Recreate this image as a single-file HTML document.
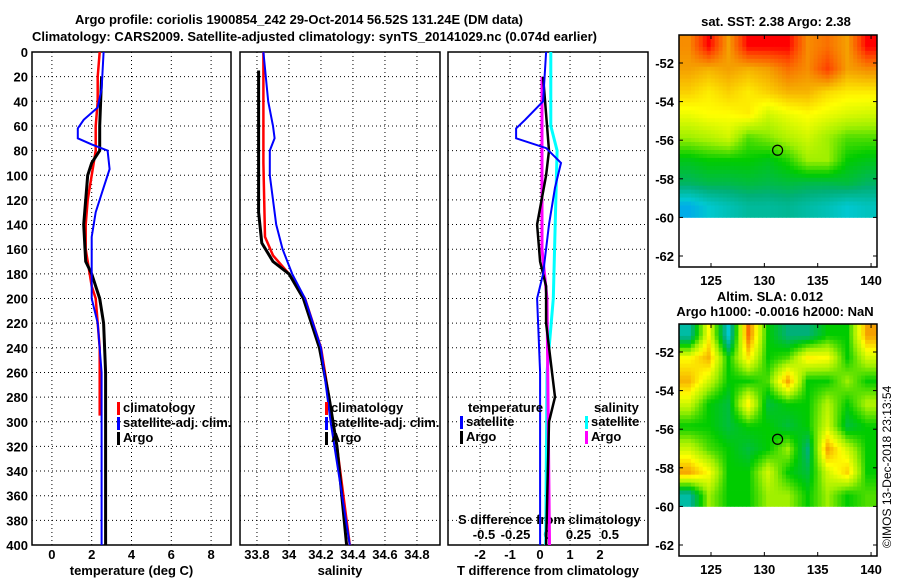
<!DOCTYPE html>
<html><head><meta charset="utf-8">
<style>
body{margin:0;background:#fff;}
svg text{font-family:"Liberation Sans",sans-serif;font-weight:bold;font-size:13px;fill:#000;}
</style></head>
<body>
<svg id="c" width="900" height="580" xmlns="http://www.w3.org/2000/svg">
<rect width="900" height="580" fill="#fff"/>
<text x="75" y="24">Argo profile: coriolis 1900854_242 29-Oct-2014 56.52S 131.24E (DM data)</text>
<text x="32" y="41">Climatology: CARS2009. Satellite-adjusted climatology: synTS_20141029.nc (0.074d earlier)</text>
<g id="g"></g>
</svg>
<script>
// ---------- data ----------
const depthTicks=[0,20,40,60,80,100,120,140,160,180,200,220,240,260,280,300,320,340,360,380,400];
const tTicks=[0,2,4,6,8];
const sTicks=[33.8,34,34.2,34.4,34.6,34.8];
const dtTicks=[-2,-1,0,1,2];
const dsTicks=[-0.5,-0.25,0,0.25,0.5];
const dsTickLabels=["-0.5","-0.25","0","0.25","0.5"];

const tClimDepth=[0,20,40,60,80,100,120,140,160,170,190,200,220,240,295];
const tClimVal=[2.4,2.3,2.3,2.2,2.2,2.0,1.8,1.7,1.7,1.8,2.0,2.2,2.3,2.4,2.4];
const tSatDepth=[0,30,45,55,62,70,75,80,95,110,130,150,200,220,260,400];
const tSatVal=[2.6,2.5,2.3,1.6,1.3,1.3,2.0,2.8,2.9,2.6,2.2,2.0,2.0,2.3,2.5,2.5];
const tArgoDepth=[20,60,80,90,100,120,140,170,180,200,220,260,280,400];
const tArgoVal=[2.5,2.4,2.4,2.0,1.8,1.7,1.6,1.7,2.0,2.4,2.6,2.7,2.7,2.7];

const sClimDepth=[0,90,150,165,180,200,240,280,320,400];
const sClimVal=[33.84,33.84,33.85,33.9,34.0,34.1,34.2,34.25,34.3,34.38];
const sSatDepth=[0,40,60,70,80,100,140,160,180,200,240,300,400];
const sSatVal=[33.84,33.87,33.9,33.91,33.88,33.88,33.92,33.96,34.02,34.1,34.2,34.26,34.38];
const sArgoDepth=[15,130,155,170,180,200,240,280,320,400];
const sArgoVal=[33.81,33.81,33.83,33.9,34.0,34.09,34.19,34.25,34.3,34.36];

const dtSatDepth=[0,40,55,62,70,78,90,110,140,180,200,260,400];
const dtSatVal=[0.2,0.1,-0.5,-0.8,-0.8,0.2,0.7,0.5,0.3,0.1,-0.1,0,0];
const dtArgoDepth=[20,80,100,140,170,190,220,280,300,400];
const dtArgoVal=[0.1,0.3,0.2,-0.1,0,0.2,0.2,0.5,0.3,0.2];
const dsSatDepth=[0,60,80,200,260,400];
const dsSatVal=[0.03,0.03,0.08,0.05,0,-0.01];
const dsArgoDepth=[20,160,200,400];
const dsArgoVal=[-0.04,-0.04,0,0.02];

const sstGrid=[
[.82,.95,.8,.95,.95,.95,.82,.85,.8,.95],
[.8,.78,.8,.78,.8,.85,.82,.9,.8,.82],
[.75,.72,.75,.72,.75,.78,.78,.74,.72,.72],
[.68,.7,.7,.72,.65,.68,.7,.68,.66,.65],
[.6,.62,.65,.55,.58,.62,.65,.6,.55,.55],
[.48,.5,.5,.5,.48,.52,.6,.6,.5,.48],
[.42,.44,.44,.45,.44,.45,.44,.44,.45,.42],
[.25,.3,.33,.36,.36,.37,.35,.33,.3,.32]];
const slaGrid=[
[.35,.7,.3,.85,.5,.4,.4,.5,.5,.8],
[.7,.78,.5,.72,.5,.55,.72,.7,.5,.65],
[.78,.65,.5,.5,.55,.8,.5,.5,.6,.5],
[.65,.5,.45,.72,.45,.5,.5,.62,.5,.62],
[.5,.5,.45,.5,.5,.45,.5,.65,.45,.5],
[.65,.55,.5,.45,.5,.6,.4,.8,.65,.5],
[.8,.7,.5,.5,.65,.5,.45,.65,.75,.5],
[.35,.6,.5,.5,.6,.6,.5,.6,.5,.55]];
const lonTicks=[125,130,135,140];
const latTicks=[-52,-54,-56,-58,-60,-62];

// ---------- helpers ----------
const NS="http://www.w3.org/2000/svg";
const G=document.getElementById('g');
function mk(tag,at,parent){const e=document.createElementNS(NS,tag);for(const k in at)e.setAttribute(k,at[k]);(parent||G).appendChild(e);return e;}
const Y0=52,Y1=545;
const yD=d=>Y0+(d/400)*(Y1-Y0);

function panel(x0,x1,lo,hi,ticks,labels,name,xlabel,showY){
  const xs=v=>x0+(v-lo)/(hi-lo)*(x1-x0);
  ticks.forEach((t,i)=>{
    const l=mk('line',{x1:xs(t),x2:xs(t),y1:Y0,y2:Y1,stroke:'#000','stroke-dasharray':'1,3','stroke-width':1});
    
    
    const tx=mk('text',{x:xs(t),y:559,'text-anchor':'middle'});tx.textContent=labels[i];
    
    
  });
  depthTicks.forEach(d=>{
    const l=mk('line',{x1:x0,x2:x1,y1:yD(d),y2:yD(d),stroke:'#000','stroke-dasharray':'1,3'});
    
    
    if(showY){const t=mk('text',{x:28,y:yD(d)+5,'text-anchor':'end'});t.textContent=d;
      
      }
  });
  const r=mk('rect',{x:x0,y:Y0,width:x1-x0,height:Y1-Y0,fill:'none',stroke:'#000','stroke-width':1.5});
  
  
  if(xlabel){const t=mk('text',{x:(x0+x1)/2,y:575,'text-anchor':'middle'});t.textContent=xlabel;
    
    }
  return xs;
}
function line(xs,depths,vals,color,w,name){
  const pts=depths.map((d,i)=>xs(vals[i]).toFixed(1)+','+yD(d).toFixed(1)).join(' ');
  const p=mk('polyline',{points:pts,fill:'none',stroke:color,'stroke-width':w});
  
  
}
function legend(x,y,items,name){
  items.forEach((it,i)=>{
    const r=mk('rect',{x:x,y:y+i*15-10,width:3,height:13,fill:it[1]});
    
    
    const t=mk('text',{x:x+6,y:y+i*15});t.textContent=it[0];
    
    
  });
}

// ---------- temperature panel ----------
const xT=panel(32,231,-1,9,tTicks,tTicks.map(String),'temperature-panel','temperature (deg C)',true);
line(xT,tClimDepth,tClimVal,'#f00',2.5,'temperature-climatology-line');
line(xT,tArgoDepth,tArgoVal,'#000',3,'temperature-argo-line');
line(xT,tSatDepth,tSatVal,'#00f',2,'temperature-satellite-line');
legend(117,412,[['climatology','#f00'],['satellite-adj. clim.','#00f'],['Argo','#000']],'temperature-legend');

// ---------- salinity panel ----------
const xS=panel(240,440,33.694,34.944,sTicks,sTicks.map(String),'salinity-panel','salinity',false);
line(xS,sClimDepth,sClimVal,'#f00',2.5,'salinity-climatology-line');
line(xS,sArgoDepth,sArgoVal,'#000',3,'salinity-argo-line');
line(xS,sSatDepth,sSatVal,'#00f',2,'salinity-satellite-line');
legend(325,412,[['climatology','#f00'],['satellite-adj. clim.','#00f'],['Argo','#000']],'salinity-legend');

// ---------- difference panel ----------
const xDT=panel(448,648,-3.07,3.6,dtTicks,dtTicks.map(String),'difference-panel','T difference from climatology',false);
const xDS=v=>547+v*126;
dsTicks.forEach((t,i)=>{const tx=mk('text',{x:xDS(t),y:539,'text-anchor':'middle'});tx.textContent=dsTickLabels[i];
  
  });
const st=mk('text',{x:458,y:524});st.textContent='S difference from climatology';


line(xDS,dsSatDepth,dsSatVal,'#0ff',3,'s-diff-satellite-line');
line(xDS,dsArgoDepth,dsArgoVal,'#f0f',3,'s-diff-argo-line');
line(xDT,dtArgoDepth,dtArgoVal,'#000',2.5,'t-diff-argo-line');
line(xDT,dtSatDepth,dtSatVal,'#00f',2,'t-diff-satellite-line');
const lt=mk('text',{x:468,y:412});lt.textContent='temperature';


legend(460,426,[['satellite','#00f'],['Argo','#000']],'t-diff-legend');
const ls=mk('text',{x:594,y:412});ls.textContent='salinity';


legend(585,426,[['satellite','#0ff'],['Argo','#f0f']],'s-diff-legend');

// ---------- maps ----------
const cmStops=[[0,[0,0,255]],[.2,[0,144,255]],[.3,[0,200,208]],[.4,[0,176,120]],[.5,[0,204,0]],[.6,[160,240,0]],[.7,[255,255,0]],[.8,[245,160,0]],[.9,[255,64,0]],[.95,[255,0,0]],[1,[255,0,0]]];
function cmap(v){v=Math.max(0,Math.min(1,v));
  for(let i=1;i<cmStops.length;i++){if(v<=cmStops[i][0]){const a=cmStops[i-1],b=cmStops[i],f=(v-a[0])/(b[0]-a[0]||1);
    return 'rgb('+a[1].map((c,k)=>Math.round(c+(b[1][k]-c)*f)).join(',')+')';}}
  return 'rgb(255,0,0)';}
function sample(grid,u,w){ // bilinear over cell centres
  const R=grid.length,C=grid[0].length;
  let fy=Math.max(0,Math.min(R-1,w*R-0.5)),fx=Math.max(0,Math.min(C-1,u*C-0.5));
  const i0=Math.floor(fy),j0=Math.floor(fx),i1=Math.min(R-1,i0+1),j1=Math.min(C-1,j0+1),ty=fy-i0,tx=fx-j0;
  return grid[i0][j0]*(1-tx)*(1-ty)+grid[i0][j1]*tx*(1-ty)+grid[i1][j0]*(1-tx)*ty+grid[i1][j1]*tx*ty;
}
function map(top,grid,name){
  const x0=679,x1=877,bot=top+232;
  const lon=l=>711+(l-125)*10.67;
  const lat=a=>(top+28)+(-52-a)*19.3;
  const yb=lat(-60);
  const NC=50,NR=46;
  const cw=(x1-x0)/NC,ch=(yb-top)/NR;
  for(let i=0;i<NR;i++)for(let j=0;j<NC;j++){
    const v=sample(grid,(j+0.5)/NC,(i+0.5)/NR);
    const r=mk('rect',{x:(x0+j*cw).toFixed(2),y:(top+i*ch).toFixed(2),width:(cw+0.4).toFixed(2),height:(ch+0.4).toFixed(2),fill:cmap(v)});
    
    
  }
  const f=mk('rect',{x:x0,y:top,width:x1-x0,height:bot-top,fill:'none',stroke:'#000','stroke-width':1.5});
  
  
  latTicks.forEach(a=>{const y=lat(a);
    mk('line',{x1:x0,x2:x0+4,y1:y,y2:y,stroke:'#000'});mk('line',{x1:x1-4,x2:x1,y1:y,y2:y,stroke:'#000'});
    const t=mk('text',{x:x0-5,y:y+5,'text-anchor':'end'});t.textContent=a;
    
    });
  lonTicks.forEach(l=>{const x=lon(l);
    mk('line',{x1:x,x2:x,y1:top,y2:top+4,stroke:'#000'});mk('line',{x1:x,x2:x,y1:bot-4,y2:bot,stroke:'#000'});
    const t=mk('text',{x:x,y:bot+18,'text-anchor':'middle'});t.textContent=l;
    
    });
  const c=mk('circle',{cx:lon(131.24),cy:lat(-56.52),r:5,fill:'none',stroke:'#000','stroke-width':1.2});
  
  
}
map(35,sstGrid,'sst-map');
map(324,slaGrid,'sla-map');
const m1=mk('text',{x:776,y:26,'text-anchor':'middle'});m1.textContent='sat. SST: 2.38 Argo: 2.38';


const m2=mk('text',{x:770,y:301,'text-anchor':'middle'});m2.textContent='Altim. SLA: 0.012';


const m3=mk('text',{x:775,y:316,'text-anchor':'middle'});m3.textContent='Argo h1000: -0.0016 h2000: NaN';


const cp=mk('text',{x:0,y:0,transform:'translate(891,548) rotate(-90)',style:'font-weight:normal;font-size:12px'});
cp.textContent='©IMOS 13-Dec-2018 23:13:54';


</script>
</body></html>
